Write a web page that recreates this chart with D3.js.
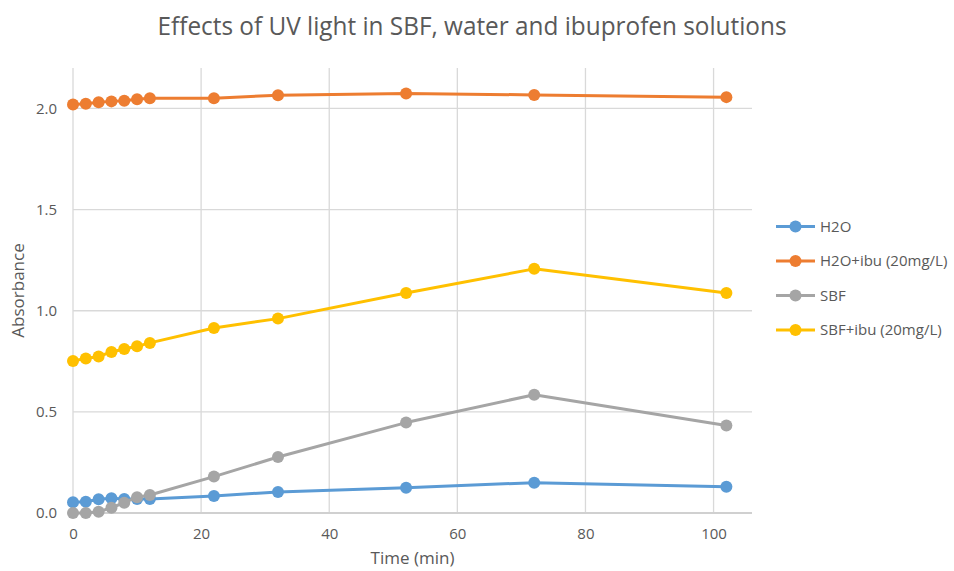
<!DOCTYPE html>
<html>
<head>
<meta charset="utf-8">
<script src="https://cdn.jsdelivr.net/npm/d3@7"></script>
<style>
  html, body { margin: 0; padding: 0; background: #fff; }
  svg { display: block; font-family: "Open Sans", "Noto Sans", sans-serif; }
</style>
</head>
<body>
<svg id="chart" width="954" height="571"></svg>
<script>
// Exposure time (minutes)
const timeMin = [0, 2, 4, 6, 8, 10, 12, 22, 32, 52, 72, 102];

// Absorbance readings for each solution
const h2o      = [0.053, 0.056, 0.068, 0.073, 0.069, 0.069, 0.069, 0.084, 0.104, 0.125, 0.150, 0.130];
const h2oIbu   = [2.020, 2.023, 2.031, 2.035, 2.038, 2.046, 2.051, 2.051, 2.065, 2.074, 2.067, 2.056];
const sbf      = [0.000, 0.000, 0.006, 0.026, 0.051, 0.078, 0.089, 0.180, 0.277, 0.447, 0.585, 0.433];
const sbfIbu   = [0.752, 0.764, 0.774, 0.796, 0.811, 0.824, 0.841, 0.915, 0.961, 1.088, 1.207, 1.088];

const seriesNames = ["H2O", "H2O+ibu (20mg/L)", "SBF", "SBF+ibu (20mg/L)"];
const seriesColors = ["#5B9BD5", "#ED7D31", "#A5A5A5", "#FFC000"];
const seriesValues = [h2o, h2oIbu, sbf, sbfIbu];

const xTicks = [0, 20, 40, 60, 80, 100];
const yTicks = [0, 0.5, 1.0, 1.5, 2.0];

const titleText = "Effects of UV light in SBF, water and ibuprofen solutions";
const xTitle = "Time (min)";
const yTitle = "Absorbance";

const svg = d3.select("#chart");
const margin = { top: 68, right: 202, bottom: 58, left: 73 };
const W = 954, H = 571;
const plotW = W - margin.left - margin.right;
const plotH = H - margin.top - margin.bottom;

const x = d3.scaleLinear().domain([0, 106]).range([margin.left, margin.left + plotW]);
const y = d3.scaleLinear().domain([0, 2.2]).range([margin.top + plotH, margin.top]);

const textColor = "#595959";
const gridColor = "#D9D9D9";

// Gridlines
const grid = svg.append("g");
grid.selectAll("line.v").data(xTicks).join("line")
  .attr("x1", d => x(d)).attr("x2", d => x(d))
  .attr("y1", y.range()[1]).attr("y2", y(0))
  .attr("stroke", gridColor).attr("stroke-width", 1.3);
grid.selectAll("line.h").data(yTicks.filter(d => d > 0)).join("line")
  .attr("x1", x.range()[0]).attr("x2", x.range()[1])
  .attr("y1", d => y(d)).attr("y2", d => y(d))
  .attr("stroke", gridColor).attr("stroke-width", 1.3);

// Horizontal axis line at zero
svg.append("line")
  .attr("x1", x.range()[0]).attr("x2", x.range()[1])
  .attr("y1", y(0)).attr("y2", y(0))
  .attr("stroke", "#D0D0D0").attr("stroke-width", 2);

// Axes (labels only; lines drawn above)
const xAxis = d3.axisBottom(x).tickValues(xTicks).tickSize(0).tickPadding(15).tickFormat(d3.format("d"));
const gx = svg.append("g").attr("transform", `translate(0,${y(0)})`).call(xAxis);
gx.select(".domain").remove();
gx.selectAll("text").attr("fill", textColor).style("font-size", "15px").style("font-family", "Open Sans");

const yAxis = d3.axisLeft(y).tickValues(yTicks).tickSize(0).tickPadding(16).tickFormat(d3.format(".1f"));
const gy = svg.append("g").attr("transform", `translate(${x(0)},0)`).call(yAxis);
gy.select(".domain").remove();
gy.selectAll("text").attr("fill", textColor).style("font-size", "15px").style("font-family", "Open Sans");

// Series lines and markers
const line = d3.line().x(d => x(d[0])).y(d => y(d[1]));
seriesValues.forEach((vals, i) => {
  const pts = timeMin.map((t, j) => [t, vals[j]]);
  const g = svg.append("g");
  g.append("path").datum(pts)
    .attr("d", line).attr("fill", "none")
    .attr("stroke", seriesColors[i]).attr("stroke-width", 3)
    .attr("stroke-linejoin", "round").attr("stroke-linecap", "round");
  g.selectAll("circle").data(pts).join("circle")
    .attr("cx", d => x(d[0])).attr("cy", d => y(d[1]))
    .attr("r", 6).attr("fill", seriesColors[i]);
});

// Title
svg.append("text")
  .attr("x", 472).attr("y", 35)
  .attr("text-anchor", "middle")
  .attr("fill", textColor)
  .style("font-size", "25px")
  .attr("textLength", 629).attr("lengthAdjust", "spacingAndGlyphs")
  .text(titleText);

// Axis titles
svg.append("text")
  .attr("x", (x.range()[0] + x.range()[1]) / 2).attr("y", 564)
  .attr("text-anchor", "middle").attr("fill", textColor)
  .style("font-size", "17px")
  .text(xTitle);

svg.append("text")
  .attr("transform", `translate(24,${(y.range()[0] + y.range()[1]) / 2}) rotate(-90)`)
  .attr("text-anchor", "middle").attr("fill", textColor)
  .style("font-size", "17px")
  .text(yTitle);

// Legend
const legend = svg.append("g");
const legendTop = 226.5, legendStep = 34.5;
seriesNames.forEach((name, i) => {
  const ly = legendTop + i * legendStep;
  const item = legend.append("g");
  item.append("line")
    .attr("x1", 776).attr("x2", 815).attr("y1", ly).attr("y2", ly)
    .attr("stroke", seriesColors[i]).attr("stroke-width", 3);
  item.append("circle")
    .attr("cx", 795.5).attr("cy", ly).attr("r", 6).attr("fill", seriesColors[i]);
  item.append("text")
    .attr("x", 820).attr("y", ly).attr("dy", "0.35em")
    .attr("fill", textColor).style("font-size", "15px")
    .text(name);
});
</script>
</body>
</html>
